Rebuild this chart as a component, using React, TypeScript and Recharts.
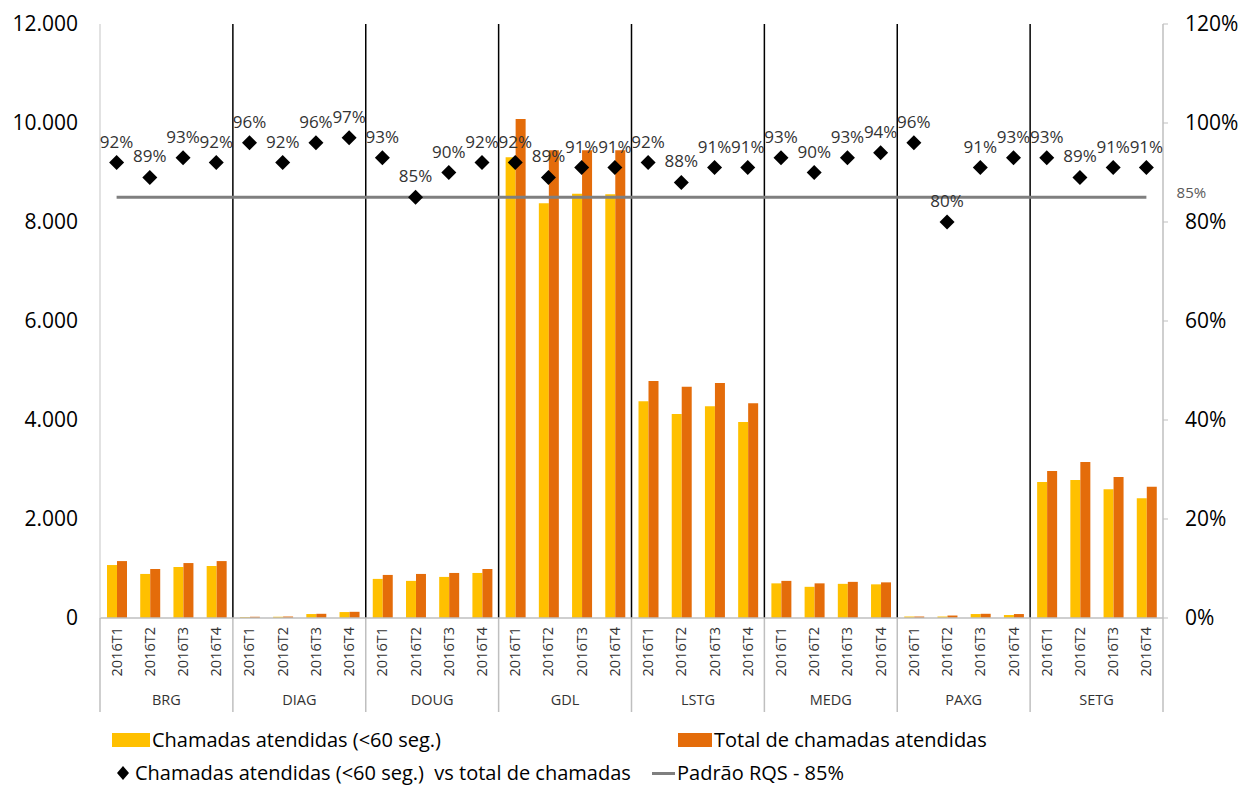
import { ComposedChart, Bar, Line, XAxis, YAxis, ReferenceLine, LabelList } from 'recharts';

// dados (2016, por trimestre)
const GROUPS = ['BRG', 'DIAG', 'DOUG', 'GDL', 'LSTG', 'MEDG', 'PAXG', 'SETG'];
const QUARTERS = ['2016T1', '2016T2', '2016T3', '2016T4'];

const ATENDIDAS_60 = [
  1070, 890, 1030, 1050,
  20, 25, 80, 120,
  790, 750, 830, 910,
  9310, 8380, 8570, 8560,
  4380, 4120, 4280, 3960,
  700, 630, 690, 680,
  30, 30, 80, 60,
  2750, 2790, 2600, 2420,
];

const TOTAL_ATENDIDAS = [
  1150, 990, 1110, 1150,
  25, 30, 85, 125,
  870, 890, 910, 990,
  10080, 9450, 9450, 9450,
  4790, 4670, 4750, 4340,
  750, 700, 730, 720,
  30, 50, 85, 80,
  2970, 3150, 2850, 2650,
];

const PCT = [
  92, 89, 93, 92,
  96, 92, 96, 97,
  93, 85, 90, 92,
  92, 89, 91, 91,
  92, 88, 91, 91,
  93, 90, 93, 94,
  96, 80, 91, 93,
  93, 89, 91, 91,
];

const RQS = 85;

const LEFT_TICKS = [0, 2000, 4000, 6000, 8000, 10000, 12000];
const RIGHT_TICKS = [0, 20, 40, 60, 80, 100, 120];

const AMARELO = '#FFC000';
const LARANJA = '#E46C0A';
const FONT = '"Open Sans", sans-serif';

const W = 1240;
const H = 789;
const PLOT_LEFT = 100;
const PLOT_RIGHT = 1163;
const BAND = (PLOT_RIGHT - PLOT_LEFT) / (GROUPS.length * QUARTERS.length);

const data = GROUPS.flatMap((g, gi) =>
  QUARTERS.map((q, qi) => {
    const i = gi * 4 + qi;
    return {
      idx: i,
      name: q,
      group: g,
      atendidas: ATENDIDAS_60[i],
      total: TOTAL_ATENDIDAS[i],
      pct: PCT[i],
      rqs: RQS,
    };
  })
);

const SEPARATORS = GROUPS.slice(1).map((_, i) => (i + 1) * QUARTERS.length - 0.5);

const fmtMil = (v: number) => (v === 0 ? '0' : `${v / 1000}.000`);

function QuarterTick(props: any) {
  const { x, y, payload } = props;
  const i = payload.index;
  return (
    <g>
      <text
        transform={`translate(${x + 5},${y + 9}) rotate(-90)`}
        textAnchor="end"
        fontSize={14.5}
        fill="#333"
        fontFamily={FONT}
      >
        {payload.value}
      </text>
      {i % 4 === 0 && (
        <line x1={x - BAND / 2} x2={x - BAND / 2} y1={y} y2={y + 94} stroke="#bfbfbf" strokeWidth={1.5} />
      )}
      {i === data.length - 1 && (
        <line x1={x + BAND / 2} x2={x + BAND / 2} y1={y} y2={y + 94} stroke="#bfbfbf" strokeWidth={1.5} />
      )}
      {i % 4 === 1 && (
        <text x={x + BAND / 2} y={y + 87} textAnchor="middle" fontSize={14.5} fill="#333" fontFamily={FONT}>
          {data[i].group}
        </text>
      )}
    </g>
  );
}

function Diamond(props: any) {
  const { cx, cy } = props;
  if (cx == null || cy == null) return null;
  const r = 7.5;
  return <polygon points={`${cx},${cy - r} ${cx + r},${cy} ${cx},${cy + r} ${cx - r},${cy}`} fill="#000" />;
}

function RqsLabel(props: any) {
  const { x, y, index } = props;
  if (index !== data.length - 1) return null;
  return (
    <text x={x + 45} y={y + 1} textAnchor="middle" fontSize={15} fill="#595959" fontFamily={FONT}>
      85%
    </text>
  );
}

export default function App() {
  return (
    <div style={{ position: 'absolute', left: 0, top: 0, width: W, height: H, background: '#fff', fontFamily: FONT }}>
      <ComposedChart
        width={W}
        height={H}
        data={data}
        margin={{ top: 24, right: 0, bottom: 71, left: 0 }}
        barGap={0}
      >
        <XAxis
          dataKey="name"
          interval={0}
          height={100}
          tick={<QuarterTick />}
          tickLine={false}
          tickSize={0}
          tickMargin={0}
          axisLine={{ stroke: '#bfbfbf', strokeWidth: 1.5 }}
        />
        <XAxis xAxisId="num" dataKey="idx" type="number" domain={[-0.5, data.length - 0.5]} hide />
        <YAxis
          yAxisId="left"
          width={PLOT_LEFT}
          domain={[0, 12000]}
          ticks={LEFT_TICKS}
          tickFormatter={fmtMil}
          tickLine={false}
          tickSize={0}
          tickMargin={22}
          axisLine={{ stroke: '#d9d9d9', strokeWidth: 1.5 }}
          tick={{ fontSize: 21, fill: '#000', fontFamily: FONT }}
        />
        <YAxis
          yAxisId="right"
          orientation="right"
          width={W - PLOT_RIGHT}
          domain={[0, 120]}
          ticks={RIGHT_TICKS}
          tickFormatter={(v: number) => `${v}%`}
          tickSize={5}
          tickMargin={17}
          tickLine={{ stroke: '#bfbfbf' }}
          axisLine={{ stroke: '#bfbfbf', strokeWidth: 1.5 }}
          tick={{ fontSize: 21, fill: '#000', fontFamily: FONT }}
        />
        <Bar yAxisId="left" dataKey="atendidas" fill={AMARELO} barSize={10} isAnimationActive={false} />
        <Bar yAxisId="left" dataKey="total" fill={LARANJA} barSize={10} isAnimationActive={false} />
        {SEPARATORS.map((s) => (
          <ReferenceLine key={s} xAxisId="num" yAxisId="left" x={s} stroke="#000" strokeWidth={1.5} />
        ))}
        <Line
          yAxisId="right"
          dataKey="rqs"
          stroke="#7f7f7f"
          strokeWidth={3}
          dot={false}
          activeDot={false}
          isAnimationActive={false}
        >
          <LabelList dataKey="rqs" content={<RqsLabel />} />
        </Line>
        <Line
          yAxisId="right"
          dataKey="pct"
          stroke="none"
          dot={<Diamond />}
          activeDot={false}
          isAnimationActive={false}
        >
          <LabelList
            dataKey="pct"
            position="top"
            offset={15}
            formatter={(v: any) => `${v}%`}
            style={{ fontSize: 17, fill: '#333', fontFamily: FONT }}
          />
        </Line>
      </ComposedChart>

      {/* legenda */}
      <div style={{ position: 'absolute', left: 112, top: 733, width: 38, height: 14, background: AMARELO }} />
      <div style={{ position: 'absolute', left: 152, top: 727, fontSize: 20, lineHeight: '26px', color: '#000' }}>
        Chamadas atendidas (&lt;60 seg.)
      </div>
      <div style={{ position: 'absolute', left: 678, top: 733, width: 34, height: 14, background: LARANJA }} />
      <div style={{ position: 'absolute', left: 714, top: 727, fontSize: 20, lineHeight: '26px', color: '#000' }}>
        Total de chamadas atendidas
      </div>
      <svg style={{ position: 'absolute', left: 116, top: 766 }} width={14} height={14}>
        <polygon points="7,0 13,7 7,14 1,7" fill="#000" />
      </svg>
      <div style={{ position: 'absolute', left: 135, top: 760, fontSize: 20, lineHeight: '26px', color: '#000', whiteSpace: 'pre' }}>
        {'Chamadas atendidas (<60 seg.)  vs total de chamadas'}
      </div>
      <div style={{ position: 'absolute', left: 652, top: 772, width: 23, height: 3, background: '#7f7f7f' }} />
      <div style={{ position: 'absolute', left: 677, top: 760, fontSize: 20, lineHeight: '26px', color: '#000' }}>
        Padrão RQS - 85%
      </div>
    </div>
  );
}
